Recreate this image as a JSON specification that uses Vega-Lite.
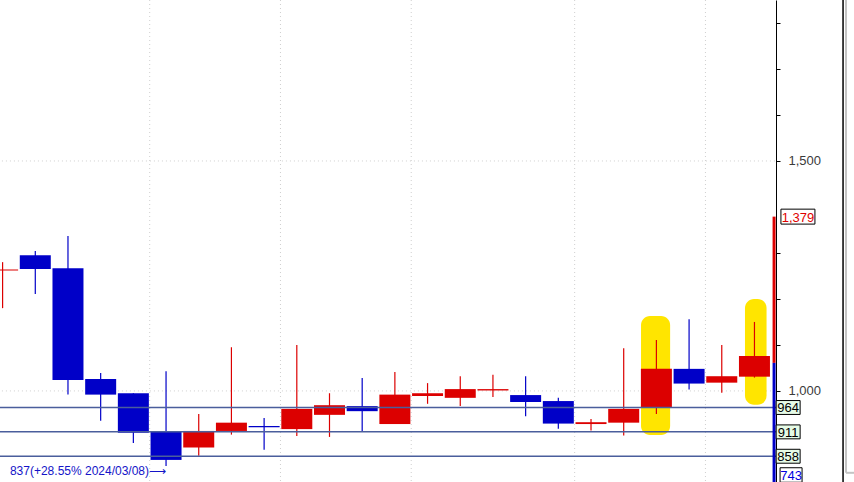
{
  "$schema": "https://vega.github.io/schema/vega-lite/v6.json",
  "width": 854,
  "height": 482,
  "padding": 0,
  "autosize": {"type": "none"},
  "background": "white",
  "config": {"view": {"stroke": null}},
  "datasets": {
    "candles": [
      {"i": 0, "week": "2024-01-29", "o": 1262, "c": 1264, "h": 1280, "l": 1180},
      {"i": 1, "week": "2024-02-05", "o": 1295, "c": 1265, "h": 1304, "l": 1211},
      {"i": 2, "week": "2024-02-12", "o": 1267, "c": 1024, "h": 1337, "l": 992},
      {"i": 3, "week": "2024-02-19", "o": 1026, "c": 992, "h": 1039, "l": 935},
      {"i": 4, "week": "2024-02-26", "o": 995, "c": 909, "h": 995, "l": 887},
      {"i": 5, "week": "2024-03-04", "o": 911, "c": 850, "h": 1043, "l": 837},
      {"i": 6, "week": "2024-03-11", "o": 877, "c": 913, "h": 950, "l": 859},
      {"i": 7, "week": "2024-03-18", "o": 913, "c": 931, "h": 1095, "l": 905},
      {"i": 8, "week": "2024-03-25", "o": 924, "c": 921, "h": 941, "l": 872},
      {"i": 9, "week": "2024-04-01", "o": 917, "c": 961, "h": 1100, "l": 902},
      {"i": 10, "week": "2024-04-08", "o": 948, "c": 969, "h": 995, "l": 900},
      {"i": 11, "week": "2024-04-15", "o": 967, "c": 956, "h": 1028, "l": 911},
      {"i": 12, "week": "2024-04-22", "o": 928, "c": 992, "h": 1041, "l": 928},
      {"i": 13, "week": "2024-04-29", "o": 989, "c": 995, "h": 1017, "l": 972},
      {"i": 14, "week": "2024-05-06", "o": 985, "c": 1004, "h": 1032, "l": 967},
      {"i": 15, "week": "2024-05-13", "o": 1001, "c": 1004, "h": 1035, "l": 987},
      {"i": 16, "week": "2024-05-20", "o": 991, "c": 976, "h": 1032, "l": 945},
      {"i": 17, "week": "2024-05-27", "o": 978, "c": 929, "h": 985, "l": 918},
      {"i": 18, "week": "2024-06-03", "o": 928, "c": 932, "h": 939, "l": 914},
      {"i": 19, "week": "2024-06-10", "o": 931, "c": 961, "h": 1093, "l": 903},
      {"i": 20, "week": "2024-06-17", "o": 964, "c": 1048, "h": 1111, "l": 950},
      {"i": 21, "week": "2024-06-24", "o": 1048, "c": 1016, "h": 1156, "l": 1003},
      {"i": 22, "week": "2024-07-01", "o": 1018, "c": 1032, "h": 1100, "l": 996},
      {"i": 23, "week": "2024-07-08", "o": 1031, "c": 1076, "h": 1150, "l": 1029}
    ],
    "months": [{"i": 4.5}, {"i": 8.5}, {"i": 12.5}, {"i": 17.5}, {"i": 21.5}],
    "grid": [{"v": 1000}, {"v": 1500}],
    "levels": [{"v": 964, "t": "964"}, {"v": 911, "t": "911"}, {"v": 858, "t": "858"}],
    "highlights": [
      {"i0": 19.53, "i1": 20.42, "lo": 904, "hi": 1163},
      {"i0": 22.71, "i1": 23.37, "lo": 970, "hi": 1200}
    ],
    "range": [
      {"from": 1379, "to": 1061, "side": "up"},
      {"from": 1061, "to": 743, "side": "down"}
    ]
  },
  "layer": [
    {
      "data": {"name": "months"},
      "mark": {"type": "rule", "color": "#cfcfcf", "strokeDash": [1, 3], "strokeWidth": 1},
      "encoding": {
        "x": {"field": "i", "type": "quantitative", "scale": {"domain": [-0.0795, 26.045], "nice": false, "zero": false, "padding": 0}, "axis": null}
      }
    },
    {
      "data": {"name": "grid"},
      "mark": {"type": "rule", "color": "#cfcfcf", "strokeDash": [1, 3], "strokeWidth": 1},
      "encoding": {
        "x": {"datum": -1, "type": "quantitative", "scale": {"domain": [-0.0795, 26.045], "nice": false, "zero": false, "padding": 0}, "axis": null},
        "x2": {"datum": 23.66},
        "y": {
          "field": "v", "type": "quantitative",
          "scale": {"domain": [802, 1850], "nice": false, "zero": false, "clamp": true, "padding": 0},
          "axis": {
            "orient": "right", "offset": -78, "title": null, "grid": false,
            "values": [1000, 1100, 1200, 1300, 1500, 1600, 1700, 1800],
            "labelExpr": "datum.value == 1000 || datum.value == 1500 ? format(datum.value, ',') : ''",
            "domainColor": "#000000", "domainWidth": 1,
            "tickColor": "#000000", "tickSize": 4, "tickWidth": 1,
            "labelPadding": 8, "labelOverlap": false, "labelBound": false,
            "labelFont": "Liberation Sans, sans-serif",
            "labelFontSize": 13, "labelColor": "#3a3a3a"
          }
        }
      }
    },
    {
      "data": {"name": "highlights"},
      "mark": {"type": "rect", "color": "#ffe500", "cornerRadius": 9},
      "encoding": {
        "x": {"field": "i0", "type": "quantitative", "scale": {"domain": [-0.0795, 26.045], "nice": false, "zero": false, "padding": 0}, "axis": null},
        "x2": {"field": "i1"},
        "y": {"field": "lo", "type": "quantitative", "scale": {"domain": [802, 1850], "nice": false, "zero": false, "clamp": true, "padding": 0}},
        "y2": {"field": "hi"}
      }
    },
    {
      "data": {"name": "candles"},
      "mark": {"type": "rule", "strokeWidth": 1.2},
      "encoding": {
        "x": {"field": "i", "type": "quantitative", "scale": {"domain": [-0.0795, 26.045], "nice": false, "zero": false, "padding": 0}, "axis": null},
        "y": {"field": "l", "type": "quantitative", "scale": {"domain": [802, 1850], "nice": false, "zero": false, "clamp": true, "padding": 0}},
        "y2": {"field": "h"},
        "color": {"condition": {"test": "datum.c >= datum.o", "value": "#dc0000"}, "value": "#0000c8"}
      }
    },
    {
      "data": {"name": "candles"},
      "mark": {"type": "bar", "width": 31},
      "encoding": {
        "x": {"field": "i", "type": "quantitative", "scale": {"domain": [-0.0795, 26.045], "nice": false, "zero": false, "padding": 0}, "axis": null},
        "y": {"field": "o", "type": "quantitative", "scale": {"domain": [802, 1850], "nice": false, "zero": false, "clamp": true, "padding": 0}},
        "y2": {"field": "c"},
        "color": {"condition": {"test": "datum.c >= datum.o", "value": "#dc0000"}, "value": "#0000c8"}
      }
    },
    {
      "data": {"name": "levels"},
      "mark": {"type": "rule", "color": "#4a5e9c", "strokeWidth": 1.5},
      "encoding": {
        "x": {"datum": -1, "type": "quantitative", "scale": {"domain": [-0.0795, 26.045], "nice": false, "zero": false, "padding": 0}, "axis": null},
        "x2": {"datum": 23.66},
        "y": {"field": "v", "type": "quantitative", "scale": {"domain": [802, 1850], "nice": false, "zero": false, "clamp": true, "padding": 0}}
      }
    },
    {
      "data": {"name": "range"},
      "mark": {"type": "rule", "strokeWidth": 3},
      "encoding": {
        "x": {"datum": 23.6, "type": "quantitative", "scale": {"domain": [-0.0795, 26.045], "nice": false, "zero": false, "padding": 0}, "axis": null},
        "y": {"field": "from", "type": "quantitative", "scale": {"domain": [802, 1850], "nice": false, "zero": false, "clamp": true, "padding": 0}},
        "y2": {"field": "to"},
        "color": {"condition": {"test": "datum.side == 'up'", "value": "#dc0000"}, "value": "#0000c8"}
      }
    },
    {
      "data": {"name": "levels"},
      "mark": {"type": "point", "shape": "M-1,-0.58H1V0.58H-1Z", "size": 576, "filled": true, "fill": "#e6fbe6", "stroke": "#000000", "strokeWidth": 1, "opacity": 1},
      "encoding": {
        "x": {"datum": 24.03, "type": "quantitative", "scale": {"domain": [-0.0795, 26.045], "nice": false, "zero": false, "padding": 0}, "axis": null},
        "y": {"field": "v", "type": "quantitative", "scale": {"domain": [802, 1850], "nice": false, "zero": false, "clamp": true, "padding": 0}}
      }
    },
    {
      "data": {"name": "levels"},
      "mark": {"type": "text", "color": "#000000", "font": "Liberation Sans, sans-serif", "fontSize": 13, "align": "center", "baseline": "middle", "dy": 1},
      "encoding": {
        "x": {"datum": 24.03, "type": "quantitative", "scale": {"domain": [-0.0795, 26.045], "nice": false, "zero": false, "padding": 0}, "axis": null},
        "y": {"field": "v", "type": "quantitative", "scale": {"domain": [802, 1850], "nice": false, "zero": false, "clamp": true, "padding": 0}},
        "text": {"field": "t"}
      }
    },
    {
      "data": {"values": [{"v": 1379, "t": "1,379"}]},
      "layer": [
        {
          "mark": {"type": "point", "shape": "M-1,-0.44H1V0.44H-1Z", "size": 1156, "filled": true, "fill": "#ffffff", "stroke": "#000000", "strokeWidth": 1, "opacity": 1},
          "encoding": {
            "x": {"datum": 24.33, "type": "quantitative", "scale": {"domain": [-0.0795, 26.045], "nice": false, "zero": false, "padding": 0}, "axis": null},
            "y": {"field": "v", "type": "quantitative", "scale": {"domain": [802, 1850], "nice": false, "zero": false, "clamp": true, "padding": 0}}
          }
        },
        {
          "mark": {"type": "text", "color": "#e00000", "font": "Liberation Sans, sans-serif", "fontSize": 13, "align": "center", "baseline": "middle", "dy": 1},
          "encoding": {
            "x": {"datum": 24.33, "type": "quantitative", "scale": {"domain": [-0.0795, 26.045], "nice": false, "zero": false, "padding": 0}, "axis": null},
            "y": {"field": "v", "type": "quantitative", "scale": {"domain": [802, 1850], "nice": false, "zero": false, "clamp": true, "padding": 0}},
            "text": {"field": "t"}
          }
        }
      ]
    },
    {
      "data": {"values": [{"v": 743, "t": "743"}]},
      "layer": [
        {
          "mark": {"type": "point", "shape": "M-1,-0.66H1V0.66H-1Z", "size": 484, "filled": true, "fill": "#ffffff", "stroke": "#000000", "strokeWidth": 1, "opacity": 1, "yOffset": -7},
          "encoding": {
            "x": {"datum": 24.12, "type": "quantitative", "scale": {"domain": [-0.0795, 26.045], "nice": false, "zero": false, "padding": 0}, "axis": null},
            "y": {"field": "v", "type": "quantitative", "scale": {"domain": [802, 1850], "nice": false, "zero": false, "clamp": true, "padding": 0}}
          }
        },
        {
          "mark": {"type": "text", "color": "#0000e0", "font": "Liberation Sans, sans-serif", "fontSize": 13, "align": "center", "baseline": "middle", "dy": -6},
          "encoding": {
            "x": {"datum": 24.12, "type": "quantitative", "scale": {"domain": [-0.0795, 26.045], "nice": false, "zero": false, "padding": 0}, "axis": null},
            "y": {"field": "v", "type": "quantitative", "scale": {"domain": [802, 1850], "nice": false, "zero": false, "clamp": true, "padding": 0}},
            "text": {"field": "t"}
          }
        }
      ]
    },
    {
      "data": {"values": [{"i": 5, "v": 837, "t": "837(+28.55% 2024/03/08)⟶"}]},
      "mark": {"type": "text", "color": "#1414c8", "font": "Liberation Sans, sans-serif", "fontSize": 12, "align": "right", "baseline": "middle", "dy": 5},
      "encoding": {
        "x": {"field": "i", "type": "quantitative", "scale": {"domain": [-0.0795, 26.045], "nice": false, "zero": false, "padding": 0}, "axis": null},
        "y": {"field": "v", "type": "quantitative", "scale": {"domain": [802, 1850], "nice": false, "zero": false, "clamp": true, "padding": 0}},
        "text": {"field": "t"}
      }
    },
    {
      "data": {"values": [{"p": 25.71}]},
      "mark": {"type": "rule", "color": "#000000", "strokeWidth": 1.5},
      "encoding": {
        "x": {"field": "p", "type": "quantitative", "scale": {"domain": [-0.0795, 26.045], "nice": false, "zero": false, "padding": 0}, "axis": null}
      }
    },
    {
      "data": {"values": [{"p": 25.8, "top": 1850, "bottom": 822}]},
      "mark": {"type": "rule", "color": "#c4c4c4", "strokeWidth": 2},
      "encoding": {
        "x": {"field": "p", "type": "quantitative", "scale": {"domain": [-0.0795, 26.045], "nice": false, "zero": false, "padding": 0}, "axis": null},
        "y": {"field": "top", "type": "quantitative", "scale": {"domain": [802, 1850], "nice": false, "zero": false, "clamp": true, "padding": 0}},
        "y2": {"field": "bottom"}
      }
    },
    {
      "data": {"values": [{"p": 25.8, "q": 26.2, "bottom": 822}]},
      "mark": {"type": "rule", "color": "#c4c4c4", "strokeWidth": 2},
      "encoding": {
        "x": {"field": "p", "type": "quantitative", "scale": {"domain": [-0.0795, 26.045], "nice": false, "zero": false, "padding": 0}, "axis": null},
        "x2": {"field": "q"},
        "y": {"field": "bottom", "type": "quantitative", "scale": {"domain": [802, 1850], "nice": false, "zero": false, "clamp": true, "padding": 0}}
      }
    }
  ]
}
